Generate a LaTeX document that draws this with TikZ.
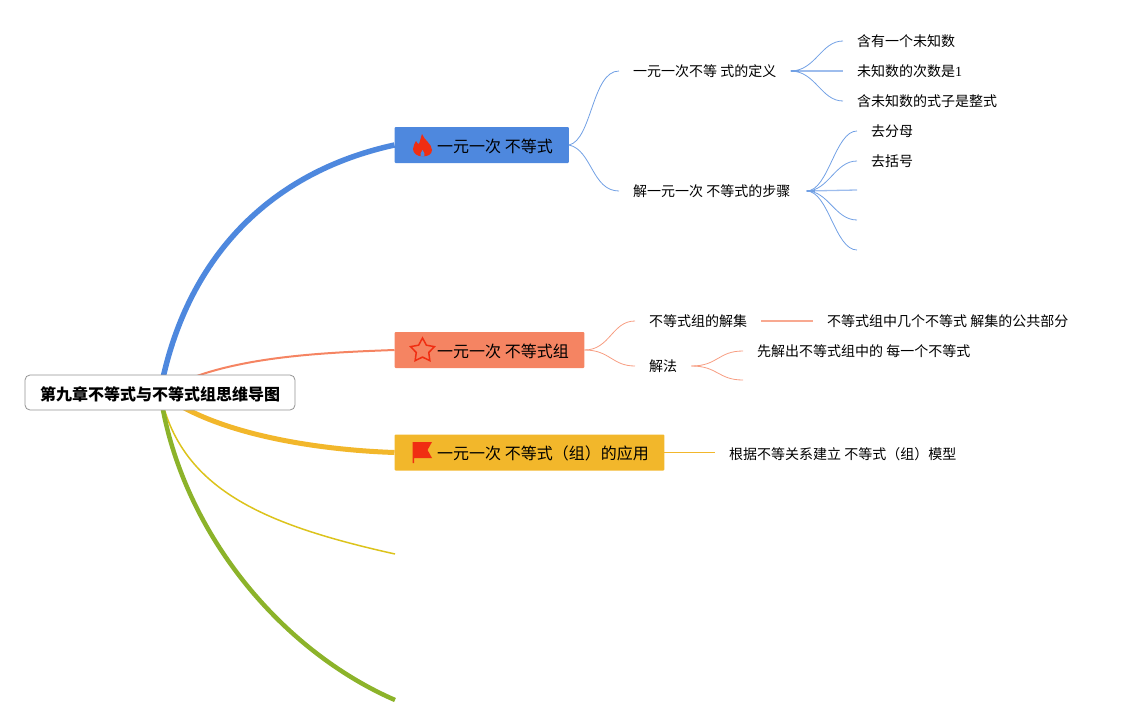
\documentclass[tikz,border=0pt]{standalone}
\usepackage{fontspec}
\setmainfont{Noto Sans CJK SC}
\newfontfamily\digitfont{Liberation Serif}
\usetikzlibrary{backgrounds,calc,shapes.geometric}
\definecolor{blueB}{HTML}{4E88DE}
\definecolor{orangeB}{HTML}{F58462}
\definecolor{yellowB}{HTML}{F2B72B}
\definecolor{limeB}{HTML}{DCC31C}
\definecolor{greenB}{HTML}{8CB32A}
\definecolor{iconred}{HTML}{F02E12}
\tikzset{
    rootbox/.style={draw=gray!85,line width=0.8pt,rounded corners=5pt,fill=white,minimum width=270pt,minimum height=35pt,inner sep=0pt,text height=15pt,text depth=0pt,font=\fontsize{16}{16}\selectfont\bfseries},
    topicbox/.style={anchor=west,rounded corners=1pt,minimum height=36pt,inner xsep=0pt,inner ysep=0pt,text height=14pt,text depth=0pt,font=\fontsize{16}{16}\selectfont},
    leaf/.style={anchor=west,inner xsep=14pt,inner ysep=2pt,font=\fontsize{14}{14}\selectfont},
    twig/.style={line width=0.8pt},
    midtwig/.style={line width=1.3pt},
    stub/.style={line width=2pt}
}
\begin{document}
\begin{tikzpicture}[x=1pt,y=-1pt]
    \useasboundingbox (0,0) rectangle (1129,725);

    % root and topics
    \node[rootbox] (root) at (160,392.5) {第九章不等式与不等式组思维导图};
    \node[topicbox,fill=blueB] (ineq) at (394.5,145) {\hspace*{42.5pt}一元一次 不等式\hspace*{16pt}};
    \node[topicbox,fill=orangeB] (group) at (394.5,350) {\hspace*{42.5pt}一元一次 不等式组\hspace*{15.5pt}};
    \node[topicbox,fill=yellowB] (usage) at (394.5,452.5) {\hspace*{42.5pt}一元一次 不等式（组）的应用\hspace*{15.5pt}};
    \coordinate (limeEnd) at (395,554);
    \coordinate (greenEnd) at (395,700);

    % icons
    \fill[iconred] (422,134) .. controls (424,140) and (432,144) .. (432,150)
        .. controls (432,154) and (428,156.5) .. (423,156.5)
        .. controls (417,156.5) and (413,153) .. (413,149)
        .. controls (413,146) and (415,143) .. (416,141)
        .. controls (417,143) and (418,144) .. (419,144)
        .. controls (420,141) and (421,137) .. (422,134) -- cycle;
    \fill[blueB] (422.5,150) .. controls (424,152) and (425,154) .. (424.5,156.5)
        -- (420.5,156.5) .. controls (420,154) and (421,152) .. (422.5,150) -- cycle;
    \node[star,star points=5,star point ratio=1.9,draw=iconred,line width=1.5pt,minimum size=25pt,inner sep=0pt] (staricon) at (422.5,350.5) {};
    \fill[iconred] (412.5,442) -- (432,442) -- (427.5,450) -- (432,458) -- (414,458) -- (414,463) -- (412.5,463) -- cycle;

    % sub topics
    \node[leaf] (define) at (619,71) {一元一次不等 式的定义};
    \node[leaf] (steps) at (619,191) {解一元一次 不等式的步骤};
    \node[leaf] (solset) at (635,321) {不等式组的解集};
    \node[leaf] (method) at (635,366) {解法};
    \node[leaf] (common) at (813,321) {不等式组中几个不等式 解集的公共部分};
    \node[leaf] (each) at (743,351) {先解出不等式组中的 每一个不等式};
    \node[leaf] (model) at (715,454) {根据不等关系建立 不等式（组）模型};

    % leaves
    \node[leaf] (one) at (843,41) {含有一个未知数};
    \node[leaf] (two) at (843,71) {未知数的次数是{\digitfont 1}};
    \node[leaf] (three) at (843,101) {含未知数的式子是整式};
    \node[leaf] (denom) at (857,131) {去分母};
    \node[leaf] (bracket) at (857,161) {去括号};
    \coordinate (stepC) at (857,190);
    \coordinate (stepD) at (857,220);
    \coordinate (stepE) at (857,250);
    \coordinate (eachB) at (743,380);

    \begin{scope}[on background layer]
        % main branches
        \draw[blueB,line width=5.5pt] (root.center) .. controls (185,258) and (270,172) .. (ineq.west);
        \draw[orangeB,line width=2pt] (root.center) .. controls (220,358) and (310,353) .. (group.west);
        \draw[yellowB,line width=5pt] (root.center) .. controls (215,435) and (320,450) .. (usage.west);
        \draw[limeB,line width=1.5pt] (root.center) .. controls (180,490) and (265,525) .. (limeEnd);
        \draw[greenB,line width=4.5pt] (root.center) .. controls (180,530) and (280,650) .. (greenEnd);
    \end{scope}

    % first level
    \draw[blueB!80,twig] (ineq.east) .. controls (592,140) and (592,71) .. (define.west);
    \draw[blueB!80,twig] (ineq.east) .. controls (592,150) and (592,191) .. (steps.west);
    \draw[orangeB!80,twig] (group.east) .. controls (610,350) and (612,321) .. (solset.west);
    \draw[orangeB!80,twig] (group.east) .. controls (610,350) and (612,366) .. (method.west);
    \draw[orangeB!70,midtwig] (solset.east) -- (common.west);
    \draw[orangeB!80,twig] (method.east) .. controls (718,366) and (718,351) .. (each.west);
    \draw[orangeB!80,twig] (method.east) .. controls (718,366) and (718,380) .. (eachB);
    \draw[yellowB,twig] (usage.east) -- (model.west |- usage.east);

    % fans
    \foreach \to in {one.west,three.west}{
        \draw[blueB!80,twig] (define.east) .. controls +(25,0) and ($(\to)+(-22,0)$) .. (\to);
    }
    \draw[blueB!55,midtwig] (define.east) -- (two.west);
    \draw[blueB!80,stub] (define.east) -- ++(8,0);

    \foreach \to in {denom.west,bracket.west,stepD,stepE}{
        \draw[blueB!80,twig] ([xshift=2pt]steps.east) .. controls +(22,0) and ($(\to)+(-22,0)$) .. (\to);
    }
    \draw[blueB!55,midtwig] ([xshift=2pt]steps.east) -- (stepC);
    \draw[blueB!80,stub] ([xshift=2pt]steps.east) -- ++(8,0);
\end{tikzpicture}
\end{document}
